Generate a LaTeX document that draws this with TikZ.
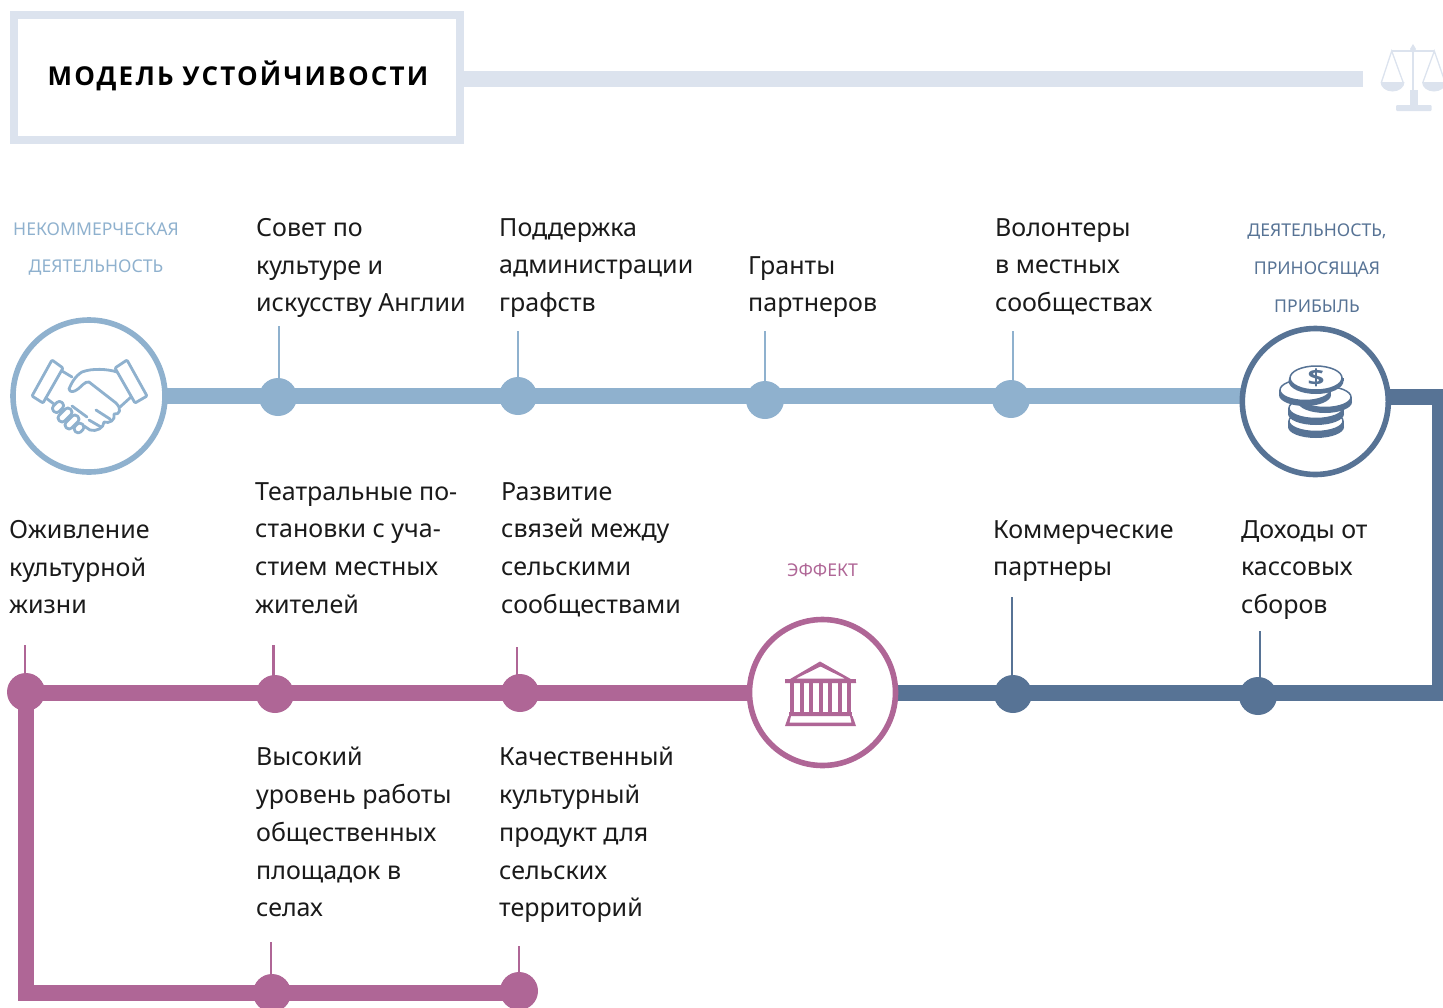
\documentclass[tikz,border=0pt]{standalone}
\usepackage{fontspec}
\setmainfont{Noto Sans}
\usetikzlibrary{backgrounds,calc}
\newfontfamily\titlefont[LetterSpace=8.5,BoldFont={Open Sans Bold}]{Open Sans}
\newfontfamily\dollarfont[BoldFont={Open Sans Bold}]{Open Sans}
\definecolor{lightb}{HTML}{8FB1CE}
\definecolor{darkb}{HTML}{577395}
\definecolor{pinkc}{HTML}{AF6696}
\definecolor{headc}{HTML}{DCE3EE}
\definecolor{txt}{HTML}{1A1A1A}
\tikzset{
  body/.style={anchor=north west,inner sep=0pt,align=left,text=txt,font=\fontsize{25}{37.8}\selectfont},
  tag/.style={inner sep=0pt,align=center,font=\fontsize{17.6}{37.8}\selectfont},
  bigc/.style={circle,draw,fill=white,line width=5.6pt,inner sep=0pt},
  dotn/.style={circle,fill,minimum size=38pt,inner sep=0pt,outer sep=0pt},
  mainline/.style={line width=16pt},
  stem/.style={line width=2.2pt},
}
\begin{document}
\begin{tikzpicture}[x=1pt,y=-1pt]
\useasboundingbox (0,0) rectangle (1443,1007);
% hubs
\node[bigc,draw=lightb,minimum size=152pt] (hand) at (89,396) {};
\node[bigc,draw=darkb,minimum size=146pt] (coins) at (1315.3,401.5) {};
\node[bigc,draw=pinkc,minimum size=146pt] (museum) at (822.5,692.5) {};
% dots
\foreach \n/\x/\y in {b1/278/397,b2/518/396,b3/765/400,b4/1011/399}
  \node[dotn,fill=lightb] (\n) at (\x,\y) {};
\foreach \n/\x/\y in {d1/1013/694,d2/1258/696}
  \node[dotn,fill=darkb] (\n) at (\x,\y) {};
\foreach \n/\x/\y in {p1/520/693,p2/275/694,p3/26/692,p4/272/993,p5/519/991}
  \node[dotn,fill=pinkc] (\n) at (\x,\y) {};
% stems' free ends
\foreach \n/\x/\y in {tb1/279/326,tb2/518/331,tb3/765/331,tb4/1013/331,td1/1012/597,td2/1260/631,tp1/517/647,tp2/273.5/645,tp3/25/645,tp4/271/942,tp5/519/946}
  \coordinate (\n) at (\x,\y);
\coordinate (lb) at (1315,396);
\coordinate (dstart) at (1315,397);
\coordinate (dcorner) at (1437.5,397);
\coordinate (dcorner2) at (1437.5,693);
\coordinate (dend) at (822.5,693);
\coordinate (pstart) at (822.5,693);
\coordinate (pc1) at (26,693);
\coordinate (pc2) at (26,993);
\coordinate (pend) at (519,993);
\begin{pgfonlayer}{background}
  \draw[mainline,lightb] (hand.center) -- (lb);
  \draw[line width=16pt,darkb] (dstart) -- (dcorner);
  \fill[darkb] (1431.5,389) rectangle (1443,701);
  \draw[mainline,darkb] (dcorner2) -- (dend);
  \draw[mainline,pinkc] (pstart) -- (pc1) -- (pc2) -- (pend);
  \foreach \a/\b in {tb1/b1,tb2/b2,tb3/b3,tb4/b4} \draw[stem,lightb] (\a) -- (\a |- \b);
  \foreach \a/\b in {td1/d1,td2/d2} \draw[stem,darkb] (\a) -- (\a |- \b);
  \foreach \a/\b in {tp1/p1,tp2/p2,tp3/p3,tp4/p4,tp5/p5} \draw[stem,pinkc] (\a) -- (\a |- \b);
\end{pgfonlayer}
% header
\node[draw=headc,line width=8pt,fill=white,minimum width=446pt,minimum height=125pt,inner sep=0pt] (head) at (237,77.5) {};
\coordinate (hend) at (1363,79);
\begin{pgfonlayer}{background}
  \draw[mainline,headc] (head.east |- hend) -- (hend);
\end{pgfonlayer}
\node[inner sep=0pt,anchor=center,text=black] (title) at (238,76) {\titlefont\bfseries\fontsize{26}{30}\selectfont МОДЕЛЬ УСТОЙЧИВОСТИ};
% scales icon
\begin{scope}[headc]
  \fill (1413,44) -- (1416,49) -- (1413,54) -- (1410,49) -- cycle;
  \draw[line width=2pt] (1391.7,51) -- (1434.3,51);
  \draw[line width=2pt] (1413,45) -- (1413,92);
  \fill (1409.5,90) rectangle (1417.5,106);
  \fill[rounded corners=1pt] (1396,105) rectangle (1431.5,111);
  \draw[line width=1.3pt] (1381.5,82) -- (1391.7,51) -- (1403,82);
  \draw[line width=1.3pt] (1423,82) -- (1434.3,51) -- (1445,82);
  \fill (1380.5,82) arc[start angle=180,end angle=0,x radius=12,y radius=9.5] -- cycle;
  \fill (1422,82) arc[start angle=180,end angle=0,x radius=12,y radius=9.5] -- cycle;
\end{scope}
% handshake icon
\begin{scope}[lightb,line width=2.8pt,line cap=round,line join=round]
  \draw[rounded corners=1pt] (52,360) -- (63,368) -- (43,403) -- (32,396) -- cycle;
  \draw[rounded corners=1pt] (127,360) -- (115,368) -- (135,403) -- (147,396) -- cycle;
  \draw (62,371) -- (72,377);
  \draw (46,398) -- (54,404);
  \draw (117,372) .. controls (108,369) and (92,368) .. (82,372)
        .. controls (75,376) and (71,384) .. (69,389)
        .. controls (70,393) and (74,392) .. (78,389)
        .. controls (81,387) and (85,381) .. (89,382)
        -- (116,403) .. controls (122,409) and (120,415) .. (114,414)
        .. controls (116,420) and (109,424) .. (104,422)
        .. controls (104,428) and (96,432) .. (90,430) -- (84,426);
  \draw (131,397) -- (120,407);
  \draw (96,410) -- (110,419);
  \draw (89,420) -- (101,427);
  \foreach \x/\y/\l in {58/407/6,65/415/8,72/422/8,79/428/5}
    \draw[rotate around={45:(\x,\y)},rounded corners=3.5pt] (\x-\l,\y-4) rectangle (\x+\l,\y+4);
  \draw (72,406) -- (87,417);
\end{scope}
% coins icon
\begin{scope}
  \foreach \cx/\cy/\rx/\ry/\h in {1316/421/28/11/6,1316/408/28/11/6,1325/397/27/11/5,1305/390/26/11/5}{
    \fill[darkb] (\cx,\cy+\h) ellipse[x radius=\rx,y radius=\ry];
    \fill[darkb] (\cx-\rx,\cy) rectangle (\cx+\rx,\cy+\h);
    \filldraw[fill=white,draw=darkb,line width=1.5pt] (\cx,\cy) ellipse[x radius=\rx-1,y radius=\ry-0.5];
  }
  \fill[darkb] (1316,381) ellipse[x radius=27.5,y radius=13];
  \fill[darkb] (1288.5,378) rectangle (1343.5,381);
  \filldraw[fill=white,draw=darkb,line width=1.5pt] (1316,378) ellipse[x radius=26,y radius=12];
  \node[inner sep=0pt,text=darkb,xscale=1.35] (dollar) at (1316,378) {\dollarfont\bfseries\fontsize{22}{22}\selectfont\$};
\end{scope}
% museum icon
\begin{scope}[pinkc]
  \fill[even odd rule] (785,682) -- (820,661.5) -- (856,682) -- (856,683) -- (785,683) -- cycle
    (796,678.5) -- (845,678.5) -- (820.5,666.5) -- cycle;
  \fill (785,678.5) rectangle (856,683);
  \foreach \x in {792,801.5,811,820.5,830,839.5,849} \fill (\x-2,683) rectangle (\x+2,712);
  \fill (789,711.5) rectangle (852,716);
  \fill[even odd rule] (788.5,716) -- (785,726) -- (856,726) -- (852.5,716) -- cycle
    (791,716) -- (789.5,722.5) -- (851.5,722.5) -- (850,716) -- cycle;
\end{scope}
% tags
\node[tag,text=lightb] (t1) at (96,249) {НЕКОММЕРЧЕСКАЯ\\ДЕЯТЕЛЬНОСТЬ};
\node[tag,text=darkb] (t2) at (1317,268) {ДЕЯТЕЛЬНОСТЬ,\\ПРИНОСЯЩАЯ\\ПРИБЫЛЬ};
\node[tag,text=pinkc] (t3) at (822.5,570.5) {ЭФФЕКТ};
% texts
\node[body] (a1) at (256,218) {Совет по\\культуре и\\искусству Англии};
\node[body] (a2) at (499,218) {Поддержка\\администрации\\графств};
\node[body] (a3) at (748,256) {Гранты\\партнеров};
\node[body] (a4) at (995,218) {Волонтеры\\в местных\\сообществах};
\node[body] (a5) at (9,520) {Оживление\\культурной\\жизни};
\node[body] (a6) at (255,482) {Театральные по-\\становки с уча-\\стием местных\\жителей};
\node[body] (a7) at (501,482) {Развитие\\связей между\\сельскими\\сообществами};
\node[body] (a8) at (993,520) {Коммерческие\\партнеры};
\node[body] (a9) at (1241,520) {Доходы от\\кассовых\\сборов};
\node[body] (a10) at (256,747) {Высокий\\уровень работы\\общественных\\площадок в\\селах};
\node[body] (a11) at (499,747) {Качественный\\культурный\\продукт для\\сельских\\территорий};
\end{tikzpicture}
\end{document}
